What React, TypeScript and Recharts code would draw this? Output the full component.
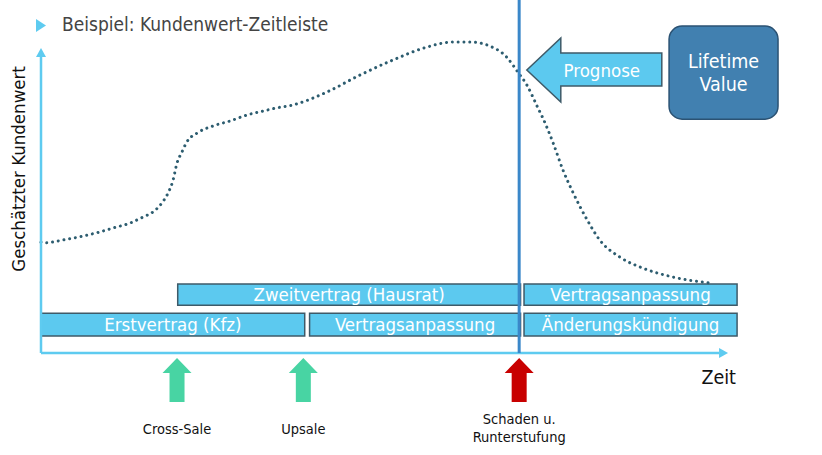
import React from 'react';
import { ComposedChart, Line, XAxis, YAxis, ReferenceArea, ReferenceLine, ReferenceDot } from 'recharts';

const FONT = '"DejaVu Sans Condensed", "DejaVu Sans", sans-serif';

// Estimated customer value curve (time 0..100, value 0..100)
const curveTime = [0, 0.5, 3.2, 5.6, 8.0, 10.4, 12.8, 14.7, 16.1, 17.4, 18.3, 19.0, 19.6, 20.3, 21.0, 22.5, 24.8, 27.2, 29.7, 32.0, 34.0, 36.3, 41.2, 46.0, 50.7, 55.6, 59.4, 61.8, 64.7, 67.1, 68.7, 70.0, 71.6, 72.3, 73.8, 75.2, 76.7, 78.7, 80.5, 83.4, 86.7, 91.1, 96.4];
const curveValue = [34.3, 34.1, 35.0, 36.0, 37.2, 38.7, 40.2, 42.1, 43.6, 46.4, 49.5, 53.3, 58.8, 62.2, 65.3, 68.1, 70.3, 71.8, 73.7, 74.9, 75.9, 76.8, 80.8, 86.1, 90.7, 94.7, 96.3, 96.3, 95.0, 91.6, 87.0, 83.0, 75.9, 72.8, 65.0, 56.7, 49.5, 41.2, 35.0, 29.7, 26.3, 23.5, 21.7];

// Contract bars
const contractLabels = ['Erstvertrag (Kfz)', 'Vertragsanpassung', 'Änderungskündigung', 'Zweitvertrag (Hausrat)', 'Vertragsanpassung'];
const contractStart = [0, 38.7, 69.6, 19.7, 69.6];
const contractEnd = [38.0, 69.1, 100.3, 69.1, 100.3];
const contractRow = [0, 0, 0, 1, 1];
const rowBottom = [5.3, 14.8];
const rowTop = [12.3, 21.4];

// Events
const eventTime = [19.6, 37.8, 68.9];
const eventLabels = [['Cross-Sale'], ['Upsale'], ['Schaden u.', 'Runterstufung']];
const eventKind = ['good', 'good', 'bad'];

// Markers
const cutTime = 68.9;
const axisTimeEnd = 99.0;
const axisValueEnd = 94.4;
const prognoseTip = { t: 70.0, v: 87.6 };
const lifetimeBox = { t1: 90.5, t2: 106.2, v1: 72.4, v2: 101.2 };

const AXIS_COLOR = '#5ecbf0';
const BAR_FILL = '#5cc9ef';
const BAR_STROKE = '#3e5a68';
const CURVE_COLOR = '#2d5d70';
const CUT_COLOR = '#3a87c9';

const data = curveTime.map((t, i) => ({ t, v: curveValue[i] }));

const ArrowLine = (p: any) => {
  const { x1, y1, x2, y2 } = p;
  const dx = x2 - x1, dy = y2 - y1;
  const len = Math.hypot(dx, dy) || 1;
  const ux = dx / len, uy = dy / len;
  const hl = 9, hw = 5;
  const bx = x2 - ux * hl, by = y2 - uy * hl;
  return (
    <g>
      <line x1={x1} y1={y1} x2={bx} y2={by} stroke={AXIS_COLOR} strokeWidth={2.5} />
      <polygon points={`${x2},${y2} ${bx - uy * hw},${by + ux * hw} ${bx + uy * hw},${by - ux * hw}`} fill={AXIS_COLOR} />
    </g>
  );
};

const EventMarker = (labels: string[], kind: string) => (p: any) => {
  const { cx, cy } = p;
  const fill = kind === 'good' ? '#48d4a3' : '#c80000';
  const tip = cy + 5, wing = cy + 20, bottom = cy + 49;
  const hw = 14.5, sw = 7.5;
  const pts = `${cx},${tip} ${cx + hw},${wing} ${cx + sw},${wing} ${cx + sw},${bottom} ${cx - sw},${bottom} ${cx - sw},${wing} ${cx - hw},${wing}`;
  const base = labels.length === 1 ? cy + 81 : cy + 71;
  return (
    <g>
      <polygon points={pts} fill={fill} />
      {labels.map((l, i) => (
        <text key={i} x={cx} y={base + i * 18} textAnchor="middle" fontSize={14.5} fill="#111" fontFamily={FONT}>{l}</text>
      ))}
    </g>
  );
};

const PrognoseArrow = (p: any) => {
  const { cx, cy } = p;
  const pts = [[0, 0], [34, -32], [34, -17], [135, -17], [135, 16], [34, 16], [34, 32]]
    .map(([x, y]) => `${cx + x},${cy + y}`).join(' ');
  return (
    <g>
      <polygon points={pts} fill={BAR_FILL} stroke={BAR_STROKE} strokeWidth={1.5} strokeLinejoin="miter" />
      <text x={cx + 75} y={cy + 7} textAnchor="middle" fontSize={18.5} fill="#fff" fontFamily={FONT}>Prognose</text>
    </g>
  );
};

const YLabel = (p: any) => {
  const { cx, cy } = p;
  return (
    <text x={cx} y={cy} transform={`rotate(-90, ${cx}, ${cy})`} textAnchor="middle" dominantBaseline="central" fontSize={18.5} fill="#111" fontFamily={FONT}>
      Geschätzter Kundenwert
    </text>
  );
};

const ZeitLabel = (p: any) => {
  const { cx, cy } = p;
  return (
    <text x={cx + 1} y={cy + 31} textAnchor="end" fontSize={19.5} fill="#111" fontFamily={FONT}>Zeit</text>
  );
};

const LifetimeLabel = (p: any) => {
  const vb = p.viewBox || {};
  const x = vb.x + vb.width / 2;
  const y = vb.y + vb.height / 2;
  return (
    <g>
      <text x={x} y={y - 5} textAnchor="middle" fontSize={19.5} fill="#fff" fontFamily={FONT}>Lifetime</text>
      <text x={x} y={y + 18} textAnchor="middle" fontSize={19.5} fill="#fff" fontFamily={FONT}>Value</text>
    </g>
  );
};

export default function App() {
  return (
    <div style={{ position: 'absolute', left: 0, top: 0, width: 822, height: 455, background: '#fff', fontFamily: FONT }}>
      <svg width={822} height={40} style={{ position: 'absolute', left: 0, top: 0 }}>
        <polygon points="36,19 46,25.5 36,32" fill={AXIS_COLOR} />
        <text x={62} y={31} fontSize={19} fill="#444" fontFamily={FONT}>Beispiel: Kundenwert-Zeitleiste</text>
      </svg>
      <ComposedChart
        width={822}
        height={455}
        data={data}
        margin={{ top: 30, right: 87, bottom: 102, left: 41 }}
        style={{ position: 'absolute', left: 0, top: 0 }}
      >
        <XAxis dataKey="t" type="number" domain={[0, 100]} hide />
        <YAxis type="number" domain={[0, 100]} hide />

        {contractLabels.map((label, i) => (
          <ReferenceArea
            key={`c${i}`}
            x1={contractStart[i]}
            x2={contractEnd[i]}
            y1={rowBottom[contractRow[i]]}
            y2={rowTop[contractRow[i]]}
            fill={BAR_FILL}
            fillOpacity={1}
            stroke={BAR_STROKE}
            strokeWidth={1.5}
            ifOverflow="visible"
            label={{ value: label, position: 'center', fill: '#fff', fontSize: 18.5, fontFamily: FONT }}
          />
        ))}

        <Line
          dataKey="v"
          type="monotone"
          stroke={CURVE_COLOR}
          strokeWidth={3}
          strokeDasharray="0.01 5.8"
          strokeLinecap="round"
          dot={false}
          activeDot={false}
          isAnimationActive={false}
        />

        <ReferenceLine segment={[{ x: 0, y: 0 }, { x: axisTimeEnd, y: 0 }]} ifOverflow="visible" shape={ArrowLine} />
        <ReferenceLine segment={[{ x: 0, y: 0 }, { x: 0, y: axisValueEnd }]} ifOverflow="visible" shape={ArrowLine} />

        <ReferenceLine segment={[{ x: cutTime, y: 0 }, { x: cutTime, y: 109.5 }]} stroke={CUT_COLOR} strokeWidth={3} ifOverflow="visible" />

        {eventTime.map((t, i) => (
          <ReferenceDot key={`e${i}`} x={t} y={0} r={1} ifOverflow="visible" shape={EventMarker(eventLabels[i], eventKind[i])} />
        ))}

        <ReferenceDot x={prognoseTip.t} y={prognoseTip.v} r={1} ifOverflow="visible" shape={PrognoseArrow} />

        <ReferenceArea
          x1={lifetimeBox.t1}
          x2={lifetimeBox.t2}
          y1={lifetimeBox.v1}
          y2={lifetimeBox.v2}
          fill="#4180b0"
          fillOpacity={1}
          stroke="#2b5273"
          strokeWidth={1.5}
          radius={13}
          ifOverflow="visible"
          label={<LifetimeLabel />}
        />

        <ReferenceDot x={-3.3} y={57.0} r={1} ifOverflow="visible" shape={YLabel} />
        <ReferenceDot x={100} y={0} r={1} ifOverflow="visible" shape={ZeitLabel} />
      </ComposedChart>
    </div>
  );
}
